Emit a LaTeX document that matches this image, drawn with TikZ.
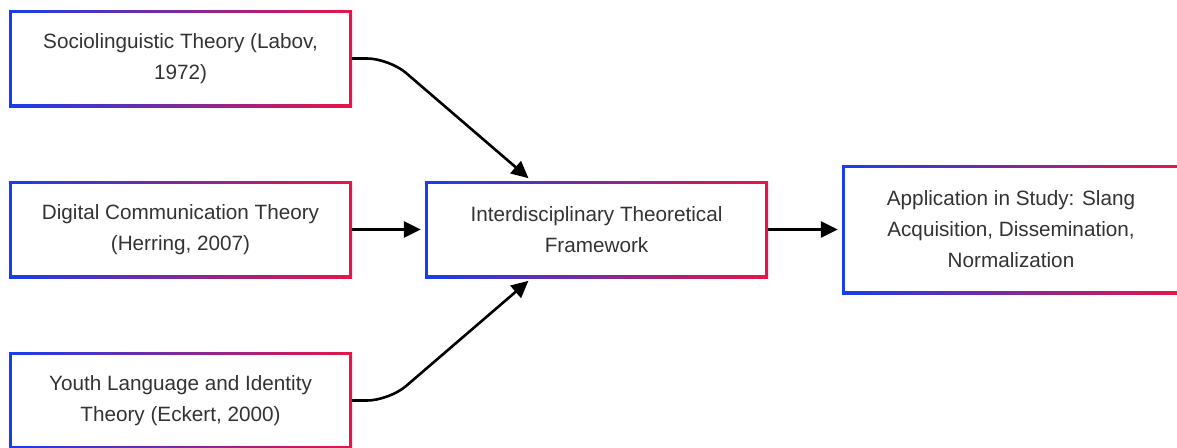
\documentclass[tikz,border=0pt]{standalone}
\usepackage{fontspec}
\setmainfont{Liberation Sans}
\usetikzlibrary{arrows.meta}

\definecolor{gblue}{RGB}{23,62,236}
\definecolor{gred}{RGB}{232,20,72}
\definecolor{txtgrey}{RGB}{51,51,51}

\tikzset{
  theory/.style={minimum width=343pt, minimum height=97pt, align=center,
    text=txtgrey, font=\fontsize{20.7}{31}\selectfont,
    path picture={
      \shade[left color=gblue, right color=gred]
        (path picture bounding box.south west) rectangle (path picture bounding box.north east);
      \fill[white]
        ([shift={(2.6pt,2.6pt)}]path picture bounding box.south west) rectangle
        ([shift={(-2.6pt,-2.6pt)}]path picture bounding box.north east);
    }},
  flow/.style={-{Triangle[length=17pt,width=16pt]}, line width=2.6pt, shorten >=4pt},
}

\begin{document}
\begin{tikzpicture}[x=1pt, y=-1pt]
  \useasboundingbox (0,0) rectangle (1177,447);

  \node[theory] (soc) at (180.5,58.5) {Sociolinguistic Theory (Labov,\\1972)};
  \node[theory] (dig) at (180.5,229.5) {Digital Communication Theory\\(Herring, 2007)};
  \node[theory] (youth) at (180.5,400.5) {Youth Language and Identity\\Theory (Eckert, 2000)};
  \node[theory] (frame) at (596.5,229.5) {Interdisciplinary Theoretical\\Framework};
  \node[theory, minimum width=338pt, minimum height=129pt] (app) at (1011,229.5)
    {Application in Study: Slang\\Acquisition, Dissemination,\\Normalization};

  \draw[flow, rounded corners=22pt] (soc.east) -- ([xshift=37pt]soc.east) -- ([xshift=-65pt]frame.north);
  \draw[flow] (dig) -- (frame);
  \draw[flow, rounded corners=22pt] (youth.east) -- ([xshift=37pt]youth.east) -- ([xshift=-65pt]frame.south);
  \draw[flow] (frame) -- (app);
\end{tikzpicture}
\end{document}
